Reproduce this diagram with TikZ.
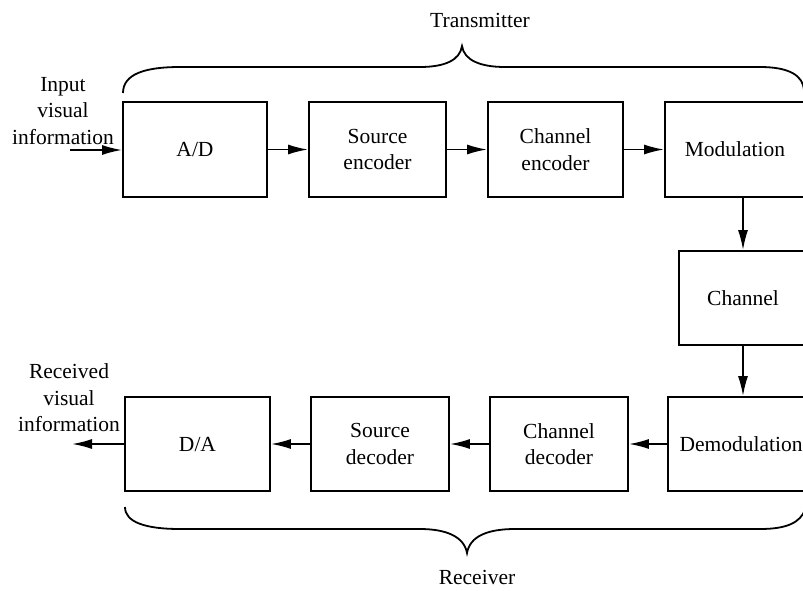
\documentclass[tikz,border=0pt]{standalone}
\usepackage{fontspec}
\setmainfont{Liberation Serif}
\usetikzlibrary{arrows.meta}
\begin{document}
\begin{tikzpicture}[x=1pt,y=-1pt,
  every node/.style={font=\fontsize{21.5}{26.5}\selectfont},
  blk/.style={draw,line width=1.8pt,minimum height=95pt,align=center,inner sep=0pt},
  arr/.style={line width=1.8pt,-{Latex[length=20pt,width=10pt]}},
  brace/.style={line width=1.8pt}]
\useasboundingbox (0,0) rectangle (803,590);
\clip (0,0) rectangle (803,590);
% top row
\node[blk,minimum width=144pt] (ad) at (195,149.5) {A/D};
\node[blk,minimum width=137pt] (senc) at (377.5,149.5) {Source\\encoder};
\node[blk,minimum width=135pt] (cenc) at (555.5,149.5) {Channel\\encoder};
\node[blk,minimum width=140pt] (mod) at (735,149.5) {Modulation};
% channel
\node[blk,minimum width=128pt,minimum height=94pt] (chan) at (743,298) {Channel};
% bottom row
\node[blk,minimum width=146pt,minimum height=94pt] (demod) at (741,444) {Demodulation};
\node[blk,minimum width=138pt,minimum height=94pt] (cdec) at (559,444) {Channel\\decoder};
\node[blk,minimum width=138pt,minimum height=94pt] (sdec) at (380,444) {Source\\decoder};
\node[blk,minimum width=145pt,minimum height=94pt] (da) at (197.5,444) {D/A};
% labels
\node[align=center,inner sep=0pt] (inlbl) at (63,111) {Input\\visual\\information};
\node[align=center,inner sep=0pt] (outlbl) at (69,398) {Received\\visual\\information};
\node[inner sep=0pt] (txlbl) at (480,20) {Transmitter};
\node[inner sep=0pt] (rxlbl) at (477,577) {Receiver};
% connectors
\coordinate (in) at (70,150);
\coordinate (out) at (72,444);
\draw[arr] (in) -- (ad.west |- in);
\draw[arr] (ad) -- (senc);
\draw[arr] (senc) -- (cenc);
\draw[arr] (cenc) -- (mod.west |- cenc);
\draw[arr] (mod.south -| chan.north) -- (chan.north);
\draw[arr] (chan.south) -- (chan.south |- demod.north);
\draw[arr] (demod.west |- cdec) -- (cdec);
\draw[arr] (cdec) -- (sdec);
\draw[arr] (sdec) -- (da);
\draw[arr] (da.west) -- (out);
% braces
\draw[brace] (123,93) .. controls (123,74) and (145,67) .. (180,67) -- (420,67)
  .. controls (445,67) and (460,60) .. (462,46)
  .. controls (464,60) and (480,67) .. (505,67) -- (760,67)
  .. controls (790,67) and (803,76) .. (804,90);
\draw[brace] (125,507) .. controls (125,522) and (145,529) .. (180,529) -- (420,529)
  .. controls (445,529) and (464,536) .. (467,553)
  .. controls (470,536) and (488,529) .. (515,529) -- (760,529)
  .. controls (788,529) and (800,522) .. (805,510);
\end{tikzpicture}
\end{document}
